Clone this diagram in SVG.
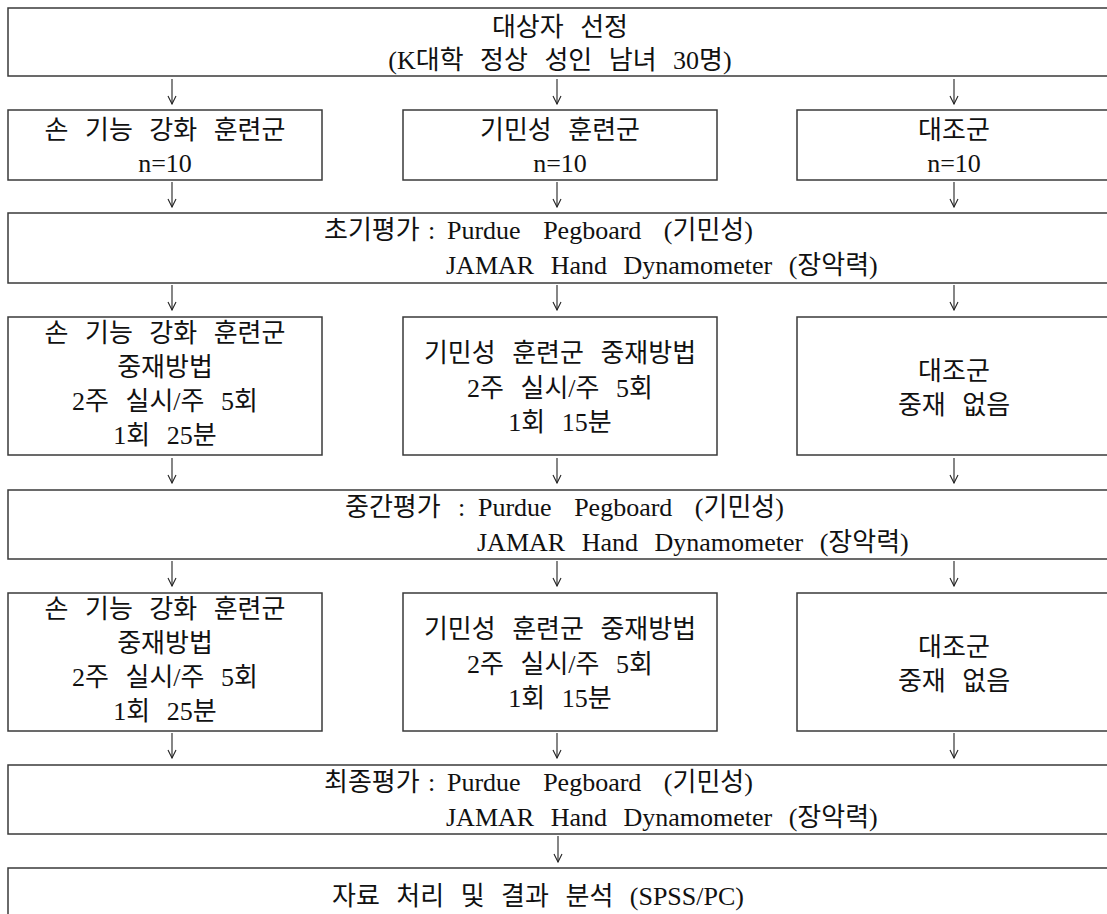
<svg xmlns="http://www.w3.org/2000/svg" width="1107" height="914" viewBox="0 0 1107 914">
<style>
.box{fill:#fff;stroke:#3a3a3a;stroke-width:1.5}
.t{font-family:"Liberation Serif","Noto Sans CJK KR",serif;font-size:26px;fill:#111;word-spacing:10px}
.c{text-anchor:middle}
.w{word-spacing:16px}
.a{fill:none;stroke:#222;stroke-width:1.1}
</style>
<defs>
<marker id="ah" viewBox="0 0 10 10" refX="5" refY="9" markerWidth="10" markerHeight="10" markerUnits="userSpaceOnUse" orient="0">
<path d="M1,1 L5,9 L9,1" fill="none" stroke="#222" stroke-width="1.1"/>
</marker>
</defs>
<rect width="1107" height="914" fill="#fff"/>
<g id="connectors">
<line class="a" x1="172" y1="79" x2="172" y2="104" marker-end="url(#ah)"/>
<line class="a" x1="557" y1="79" x2="557" y2="104" marker-end="url(#ah)"/>
<line class="a" x1="954" y1="79" x2="954" y2="104" marker-end="url(#ah)"/>
<line class="a" x1="172" y1="182" x2="172" y2="207" marker-end="url(#ah)"/>
<line class="a" x1="557" y1="182" x2="557" y2="207" marker-end="url(#ah)"/>
<line class="a" x1="954" y1="182" x2="954" y2="207" marker-end="url(#ah)"/>
<line class="a" x1="172" y1="285" x2="172" y2="310" marker-end="url(#ah)"/>
<line class="a" x1="557" y1="285" x2="557" y2="310" marker-end="url(#ah)"/>
<line class="a" x1="954" y1="285" x2="954" y2="310" marker-end="url(#ah)"/>
<line class="a" x1="172" y1="458" x2="172" y2="483" marker-end="url(#ah)"/>
<line class="a" x1="557" y1="458" x2="557" y2="483" marker-end="url(#ah)"/>
<line class="a" x1="954" y1="458" x2="954" y2="483" marker-end="url(#ah)"/>
<line class="a" x1="172" y1="561" x2="172" y2="586" marker-end="url(#ah)"/>
<line class="a" x1="557" y1="561" x2="557" y2="586" marker-end="url(#ah)"/>
<line class="a" x1="954" y1="561" x2="954" y2="586" marker-end="url(#ah)"/>
<line class="a" x1="172" y1="733" x2="172" y2="758" marker-end="url(#ah)"/>
<line class="a" x1="557" y1="733" x2="557" y2="758" marker-end="url(#ah)"/>
<line class="a" x1="954" y1="733" x2="954" y2="758" marker-end="url(#ah)"/>
<line class="a" x1="558" y1="836" x2="558" y2="862" marker-end="url(#ah)"/>
</g>
<g id="n_subject">
<rect class="box" x="8" y="8" width="1130" height="68"/>
<text class="t c" x="560" y="36">대상자 선정</text>
<text class="t c" x="560" y="69">(K대학 정상 성인 남녀 30명)</text>
</g>
<g id="n_group1">
<rect class="box" x="8" y="110" width="314" height="70"/>
<text class="t c" x="165" y="139">손 기능 강화 훈련군</text>
<text class="t c" x="165" y="172">n=10</text>
</g>
<g id="n_group2">
<rect class="box" x="403" y="110" width="314" height="70"/>
<text class="t c" x="560" y="139">기민성 훈련군</text>
<text class="t c" x="560" y="172">n=10</text>
</g>
<g id="n_group3">
<rect class="box" x="797" y="110" width="340" height="70"/>
<text class="t c" x="954" y="139">대조군</text>
<text class="t c" x="954" y="172">n=10</text>
</g>
<g id="n_eval1">
<rect class="box" x="8" y="213" width="1130" height="70"/>
<text class="t" y="239"><tspan x="324">초기평가</tspan><tspan x="428">:</tspan><tspan class="w" x="447">Purdue Pegboard (기민성)</tspan></text>
<text class="t" x="446" y="274">JAMAR Hand Dynamometer (장악력)</text>
</g>
<g id="n_int1a">
<rect class="box" x="8" y="317" width="314" height="138"/>
<text class="t c" x="165" y="342">손 기능 강화 훈련군</text>
<text class="t c" x="165" y="376">중재방법</text>
<text class="t c" x="165" y="410">2주 실시/주 5회</text>
<text class="t c" x="165" y="444">1회 25분</text>
</g>
<g id="n_int1b">
<rect class="box" x="403" y="317" width="314" height="138"/>
<text class="t c" x="560" y="362">기민성 훈련군 중재방법</text>
<text class="t c" x="560" y="397">2주 실시/주 5회</text>
<text class="t c" x="560" y="431">1회 15분</text>
</g>
<g id="n_int1c">
<rect class="box" x="797" y="317" width="340" height="138"/>
<text class="t c" x="954" y="380">대조군</text>
<text class="t c" x="954" y="414">중재 없음</text>
</g>
<g id="n_eval2">
<rect class="box" x="8" y="490" width="1130" height="69"/>
<text class="t" y="516"><tspan x="345">중간평가</tspan><tspan x="458">:</tspan><tspan class="w" x="478">Purdue Pegboard (기민성)</tspan></text>
<text class="t" x="477" y="551">JAMAR Hand Dynamometer (장악력)</text>
</g>
<g id="n_int2a">
<rect class="box" x="8" y="593" width="314" height="138"/>
<text class="t c" x="165" y="618">손 기능 강화 훈련군</text>
<text class="t c" x="165" y="652">중재방법</text>
<text class="t c" x="165" y="686">2주 실시/주 5회</text>
<text class="t c" x="165" y="720">1회 25분</text>
</g>
<g id="n_int2b">
<rect class="box" x="403" y="593" width="314" height="138"/>
<text class="t c" x="560" y="638">기민성 훈련군 중재방법</text>
<text class="t c" x="560" y="673">2주 실시/주 5회</text>
<text class="t c" x="560" y="707">1회 15분</text>
</g>
<g id="n_int2c">
<rect class="box" x="797" y="593" width="340" height="138"/>
<text class="t c" x="954" y="656">대조군</text>
<text class="t c" x="954" y="690">중재 없음</text>
</g>
<g id="n_eval3">
<rect class="box" x="8" y="765" width="1130" height="69"/>
<text class="t" y="791"><tspan x="324">최종평가</tspan><tspan x="428">:</tspan><tspan class="w" x="447">Purdue Pegboard (기민성)</tspan></text>
<text class="t" x="446" y="826">JAMAR Hand Dynamometer (장악력)</text>
</g>
<g id="n_analysis">
<rect class="box" x="8" y="868" width="1130" height="80"/>
<text class="t c" x="538" y="905">자료 처리 및 결과 분석 (SPSS/PC)</text>
</g>
</svg>
